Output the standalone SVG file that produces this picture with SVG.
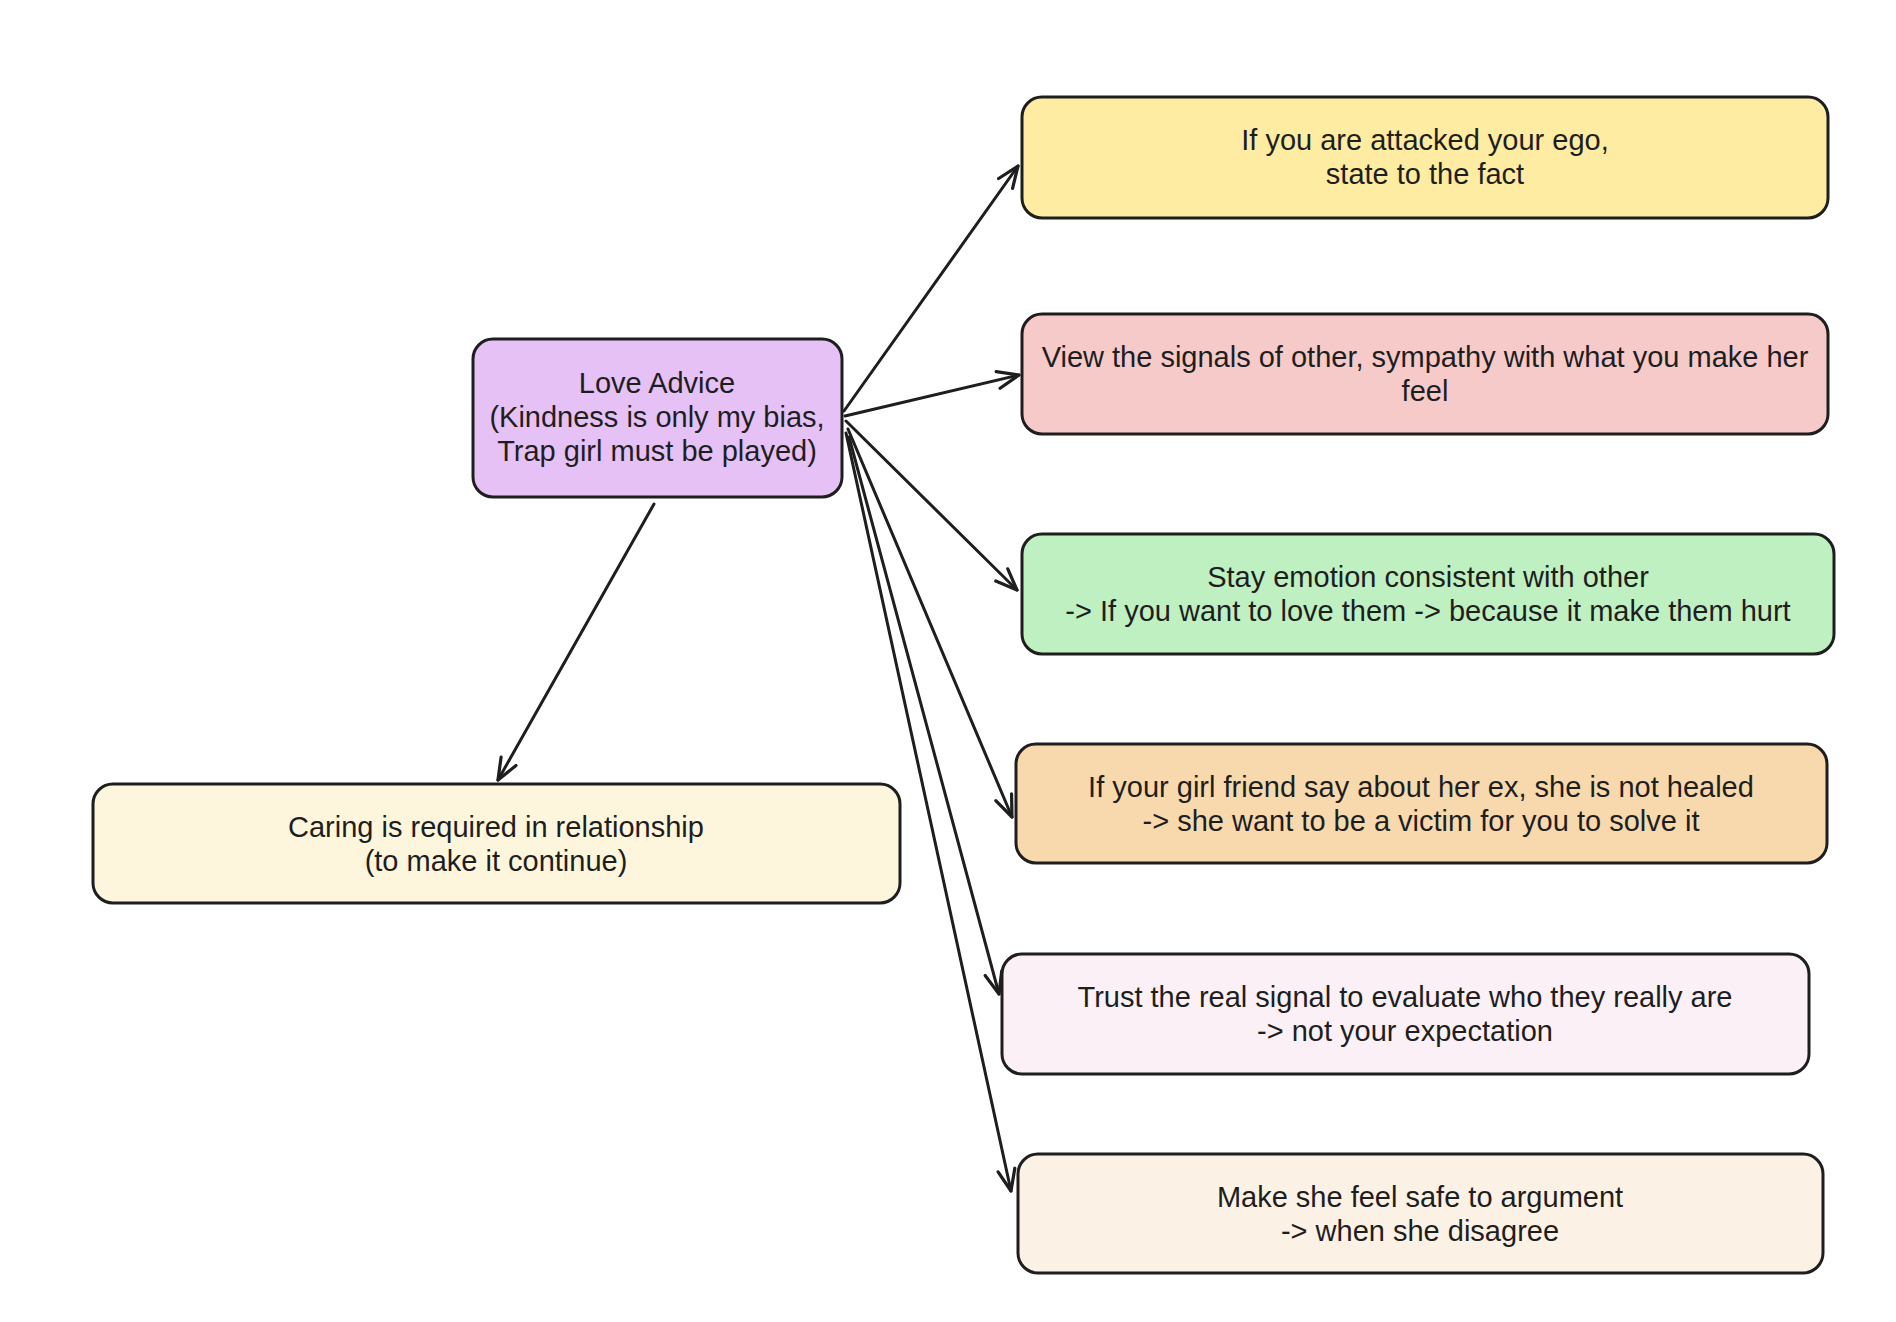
<svg xmlns="http://www.w3.org/2000/svg" width="1896" height="1322" viewBox="0 0 1896 1322">
  <defs>
    <style>
      .box { stroke: #1e1e1e; stroke-width: 3; }
      .lbl { font-family: "Liberation Sans", Arial, sans-serif; font-size: 29px; fill: #1e1e1e; text-anchor: middle; }
      .edge { fill: none; stroke: #1e1e1e; stroke-width: 3; stroke-linecap: round; }
    </style>
    <marker id="arrow" markerUnits="userSpaceOnUse" markerWidth="30" markerHeight="30" viewBox="-24 -12 28 24" refX="0" refY="0" orient="auto">
      <path d="M -20 -8 L 0 0 L -20 8" fill="none" stroke="#1e1e1e" stroke-width="3" stroke-linecap="round" stroke-linejoin="round"/>
    </marker>
  </defs>
  <rect width="1896" height="1322" fill="#ffffff"/>

  <g id="connectors">
    <path class="edge" d="M 844 411 L 1018 166" marker-end="url(#arrow)"/>
    <path class="edge" d="M 845 416 L 1019 375" marker-end="url(#arrow)"/>
    <path class="edge" d="M 846 421 L 1017 590" marker-end="url(#arrow)"/>
    <path class="edge" d="M 848 429 L 1012 817" marker-end="url(#arrow)"/>
    <path class="edge" d="M 849 437 L 999 994" marker-end="url(#arrow)"/>
    <path class="edge" d="M 846 433 L 1011 1191" marker-end="url(#arrow)"/>
    <path class="edge" d="M 654 504 L 498 780" marker-end="url(#arrow)"/>
  </g>

  <g id="node-love-advice">
    <rect class="box" x="473" y="339" width="369" height="158" rx="20" fill="#e6c1f6"/>
    <text class="lbl" x="657" y="393">Love Advice</text>
    <text class="lbl" x="657" y="427">(Kindness is only my bias,</text>
    <text class="lbl" x="657" y="461">Trap girl must be played)</text>
  </g>

  <g id="node-ego">
    <rect class="box" x="1022" y="97" width="806" height="121" rx="20" fill="#fdeca1"/>
    <text class="lbl" x="1425" y="150">If you are attacked your ego,</text>
    <text class="lbl" x="1425" y="184">state to the fact</text>
  </g>

  <g id="node-signals">
    <rect class="box" x="1022" y="314" width="806" height="120" rx="20" fill="#f7caca"/>
    <text class="lbl" x="1425" y="367">View the signals of other, sympathy with what you make her</text>
    <text class="lbl" x="1425" y="401">feel</text>
  </g>

  <g id="node-emotion">
    <rect class="box" x="1022" y="534" width="812" height="120" rx="20" fill="#bff0c1"/>
    <text class="lbl" x="1428" y="587">Stay emotion consistent with other</text>
    <text class="lbl" x="1428" y="621">-&gt; If you want to love them -&gt; because it make them hurt</text>
  </g>

  <g id="node-ex">
    <rect class="box" x="1016" y="744" width="811" height="119" rx="20" fill="#f8d9ad"/>
    <text class="lbl" x="1421" y="797">If your girl friend say about her ex, she is not healed</text>
    <text class="lbl" x="1421" y="831">-&gt; she want to be a victim for you to solve it</text>
  </g>

  <g id="node-trust">
    <rect class="box" x="1002" y="954" width="807" height="120" rx="20" fill="#fbf0f5"/>
    <text class="lbl" x="1405" y="1007">Trust the real signal to evaluate who they really are</text>
    <text class="lbl" x="1405" y="1041">-&gt; not your expectation</text>
  </g>

  <g id="node-safe">
    <rect class="box" x="1018" y="1154" width="805" height="119" rx="20" fill="#fcf1e5"/>
    <text class="lbl" x="1420" y="1207">Make she feel safe to argument</text>
    <text class="lbl" x="1420" y="1241">-&gt; when she disagree</text>
  </g>

  <g id="node-caring">
    <rect class="box" x="93" y="784" width="807" height="119" rx="20" fill="#fdf6dd"/>
    <text class="lbl" x="496" y="837">Caring is required in relationship</text>
    <text class="lbl" x="496" y="871">(to make it continue)</text>
  </g>
</svg>
